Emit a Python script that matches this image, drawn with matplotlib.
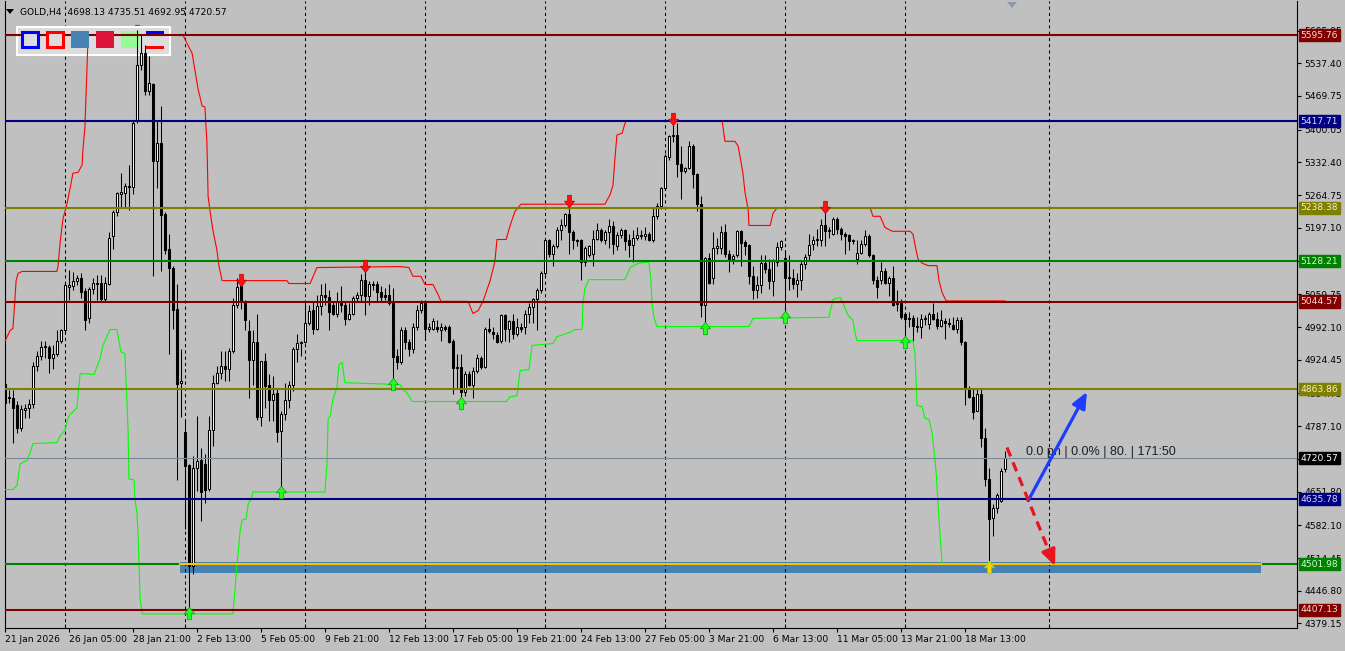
import matplotlib
matplotlib.use('Agg')
import matplotlib.pyplot as plt
from matplotlib import font_manager
from matplotlib.patches import Rectangle, Polygon
import matplotlib.transforms as mtransforms
import numpy as np

available = {f.name for f in font_manager.fontManager.ttflist}
if 'Liberation Sans Narrow' in available:
    UI_FONT, UI_SIZE = 'Liberation Sans Narrow', 8.3
else:
    UI_FONT, UI_SIZE = 'DejaVu Sans', 6.6
TXT_FONT = 'Liberation Sans' if 'Liberation Sans' in available else 'DejaVu Sans'
plt.rcParams['font.family'] = [UI_FONT, 'DejaVu Sans']

# ---------------- data (GOLD, H4) ----------------
opens = [
    4875, 4848, 4846, 4830, 4784, 4821, 4825, 4832, 4912, 4933,
    4950, 4950, 4927, 4937, 4964, 4985, 5074, 5076, 5088, 5093,
    5066, 5010, 5070, 5082, 5084, 5051, 5082, 5180, 5229, 5267,
    5269, 5283, 5281, 5418, 5534, 5558, 5480, 5494, 5335, 5372,
    5225, 5153, 5115, 5030, 4877, 4774, 4707, 4498, 4701, 4717,
    4709, 4658, 4780, 4877, 4898, 4912, 4906, 4943, 5037, 5076,
    5045, 4983, 4923, 4962, 4807, 4921, 4873, 4842, 4856, 4777,
    4813, 4842, 4873, 4946, 4958, 4962, 5001, 5028, 4987, 5035,
    5059, 5055, 5037, 5020, 5045, 5037, 5008, 5020, 5053, 5059,
    5090, 5057, 5082, 5082, 5064, 5059, 5059, 5041, 4933, 4919,
    4985, 4962, 4946, 4993, 5028, 5041, 4989, 4989, 4993, 4985,
    4993, 4993, 4964, 4908, 4910, 4857, 4895, 4873, 4902, 4927,
    4910, 4989, 4981, 4975, 4964, 5016, 4989, 5004, 4977, 4993,
    4993, 5018, 5033, 5051, 5068, 5103, 5171, 5142, 5159, 5192,
    5204, 5225, 5188, 5171, 5171, 5126, 5140, 5142, 5175, 5192,
    5173, 5188, 5200, 5159, 5182, 5192, 5171, 5161, 5177, 5182,
    5180, 5184, 5173, 5221, 5242, 5279, 5343, 5387, 5389, 5329,
    5314, 5320, 5366, 5308, 5246, 5037, 5134, 5093, 5155, 5155,
    5188, 5144, 5132, 5140, 5190, 5167, 5161, 5097, 5068, 5078,
    5124, 5113, 5088, 5126, 5157, 5134, 5093, 5093, 5082, 5090,
    5122, 5140, 5163, 5171, 5173, 5202, 5190, 5184, 5215, 5194,
    5184, 5182, 5169, 5132, 5146, 5163, 5180, 5140, 5090, 5090,
    5107, 5084, 5093, 5039, 5045, 5020, 5008, 5010, 4995, 4993,
    5008, 4999, 5018, 5008, 4995, 5004, 5001, 4997, 4987, 5006,
    4962, 4865, 4848, 4819, 4854, 4762, 4677, 4598, 4618, 4633,
    4698.13]
highs = [
    4885, 4861, 4861, 4840, 4830, 4832, 4844, 4919, 4943, 4964,
    4964, 4954, 4954, 4985, 4989, 5084, 5109, 5105, 5099, 5103,
    5072, 5074, 5093, 5099, 5099, 5095, 5188, 5233, 5271, 5310,
    5289, 5327, 5418, 5606, 5596, 5575, 5552, 5496, 5420, 5449,
    5229, 5184, 5119, 5080, 4946, 4799, 4709, 4726, 4808, 4742,
    4730, 4808, 4892, 4912, 4943, 4943, 4948, 5053, 5093, 5097,
    5047, 5006, 4985, 5020, 4921, 4939, 4894, 4890, 4863, 4819,
    4877, 4881, 4950, 4977, 4964, 5045, 5037, 5045, 5059, 5080,
    5084, 5068, 5045, 5064, 5076, 5045, 5041, 5057, 5064, 5101,
    5109, 5088, 5088, 5088, 5076, 5072, 5080, 5072, 4946, 4993,
    4993, 4968, 5001, 5037, 5047, 5045, 5001, 5010, 5006, 5001,
    4997, 4997, 4968, 4937, 4937, 4902, 4902, 4910, 4937, 4933,
    4993, 5010, 4993, 4981, 5020, 5020, 5006, 5020, 5010, 5001,
    5028, 5041, 5053, 5072, 5107, 5175, 5175, 5163, 5198, 5215,
    5227, 5246, 5192, 5175, 5175, 5159, 5161, 5192, 5208, 5196,
    5192, 5215, 5211, 5188, 5196, 5194, 5184, 5192, 5198, 5192,
    5198, 5188, 5240, 5248, 5281, 5349, 5389, 5422, 5413, 5366,
    5322, 5376, 5370, 5310, 5262, 5136, 5146, 5188, 5177, 5200,
    5206, 5151, 5142, 5192, 5192, 5171, 5163, 5119, 5097, 5140,
    5140, 5132, 5132, 5167, 5173, 5151, 5140, 5113, 5103, 5128,
    5144, 5184, 5180, 5194, 5215, 5231, 5198, 5219, 5219, 5198,
    5188, 5184, 5175, 5171, 5171, 5192, 5184, 5144, 5097, 5126,
    5115, 5097, 5119, 5068, 5049, 5024, 5024, 5016, 5012, 5018,
    5016, 5024, 5041, 5024, 5028, 5010, 5010, 5012, 5012, 5012,
    4964, 4871, 4863, 4863, 4863, 4783, 4700, 4626, 4648, 4700,
    4735.51]
lows = [
    4830, 4836, 4753, 4772, 4778, 4805, 4805, 4825, 4902, 4923,
    4929, 4896, 4906, 4933, 4960, 4981, 5047, 5068, 5078, 5053,
    4985, 5001, 5061, 5047, 5043, 5043, 5078, 5153, 5221, 5238,
    5238, 5233, 5267, 5413, 5523, 5471, 5471, 5097, 5279, 5107,
    5144, 4937, 4989, 4676, 4807, 4575, 4400, 4481, 4653, 4591,
    4628, 4653, 4746, 4875, 4885, 4881, 4881, 4939, 5032, 5030,
    4985, 4846, 4873, 4799, 4787, 4825, 4798, 4798, 4755, 4649,
    4799, 4825, 4859, 4919, 4933, 4958, 4997, 4977, 4985, 5016,
    5037, 4985, 5016, 5012, 5024, 4997, 5006, 5016, 5045, 5045,
    5016, 5037, 5068, 5045, 5045, 5047, 5037, 4865, 4906, 4915,
    4946, 4933, 4939, 4985, 5022, 4968, 4981, 4985, 4981, 4964,
    4983, 4958, 4854, 4866, 4842, 4849, 4870, 4846, 4898, 4906,
    4908, 4979, 4968, 4958, 4960, 4964, 4962, 4968, 4973, 4981,
    4977, 5001, 5001, 4985, 5063, 5099, 5136, 5119, 5155, 5171,
    5198, 5142, 5153, 5159, 5090, 5119, 5136, 5119, 5171, 5167,
    5163, 5155, 5142, 5151, 5177, 5151, 5136, 5126, 5171, 5175,
    5173, 5169, 5167, 5215, 5237, 5275, 5337, 5374, 5302, 5256,
    5310, 5318, 5279, 5231, 5012, 4993, 5080, 5080, 5144, 5144,
    5136, 5105, 5122, 5136, 5119, 5140, 5080, 5049, 5053, 5063,
    5103, 5071, 5057, 5119, 5151, 5012, 5068, 5071, 5055, 5068,
    5111, 5128, 5151, 5159, 5159, 5159, 5177, 5182, 5184, 5171,
    5144, 5151, 5163, 5122, 5144, 5159, 5136, 5080, 5053, 5080,
    5080, 5057, 5035, 5026, 5008, 4968, 4993, 4964, 4981, 4970,
    4997, 4989, 5006, 4989, 4993, 4968, 4993, 4985, 4979, 4954,
    4830, 4846, 4802, 4819, 4744, 4663, 4492, 4561, 4608, 4631,
    4692.95]
closes = [
    4836, 4846, 4825, 4784, 4823, 4825, 4832, 4912, 4933, 4950,
    4952, 4927, 4937, 4964, 4985, 5078, 5078, 5088, 5093, 5064,
    5006, 5070, 5084, 5084, 5051, 5084, 5177, 5229, 5269, 5271,
    5283, 5281, 5413, 5534, 5558, 5480, 5496, 5335, 5372, 5223,
    5151, 5115, 5028, 4875, 4881, 4705, 4498, 4701, 4715, 4651,
    4656, 4780, 4877, 4898, 4912, 4906, 4943, 5037, 5074, 5045,
    5006, 4923, 4962, 4807, 4921, 4871, 4842, 4854, 4775, 4813,
    4842, 4873, 4946, 4958, 4962, 5001, 5026, 4987, 5035, 5059,
    5055, 5024, 5020, 5043, 5037, 5008, 5020, 5053, 5059, 5090,
    5057, 5080, 5078, 5064, 5055, 5055, 5041, 4931, 4919, 4985,
    4962, 4946, 4993, 5028, 5041, 4989, 4993, 5004, 4989, 4993,
    4989, 4962, 4908, 4910, 4857, 4895, 4873, 4902, 4927, 4910,
    4989, 4983, 4977, 4962, 5016, 4989, 5004, 4977, 4993, 4989,
    5018, 5033, 5051, 5068, 5103, 5171, 5142, 5159, 5192, 5204,
    5225, 5188, 5171, 5169, 5126, 5155, 5159, 5175, 5192, 5173,
    5188, 5200, 5163, 5182, 5192, 5169, 5161, 5177, 5182, 5180,
    5184, 5173, 5221, 5242, 5279, 5345, 5387, 5389, 5329, 5314,
    5320, 5366, 5308, 5246, 5037, 5134, 5084, 5155, 5159, 5188,
    5144, 5132, 5138, 5190, 5165, 5159, 5097, 5068, 5078, 5124,
    5113, 5088, 5128, 5157, 5169, 5093, 5095, 5082, 5090, 5122,
    5136, 5161, 5173, 5175, 5202, 5190, 5192, 5215, 5194, 5184,
    5180, 5169, 5171, 5146, 5163, 5180, 5140, 5090, 5074, 5107,
    5084, 5093, 5037, 5041, 5012, 5008, 5010, 4995, 4993, 5008,
    5010, 5018, 5008, 4995, 5006, 5001, 4999, 4987, 5006, 4962,
    4865, 4848, 4816, 4854, 4762, 4677, 4596, 4618, 4645, 4695,
    4720.57]
assert len(opens) == len(highs) == len(lows) == len(closes) == 251

# channel indicator (bar index, price)
upper_channel = [
    (0, 4964), (1.2, 4985), (1.9, 4989), (2.2, 5024), (2.7, 5088), (3.2, 5103), (4.2, 5107),
    (12.9, 5107), (13.2, 5119), (13.7, 5167), (14.4, 5215), (15.4, 5246), (16.2, 5279),
    (16.9, 5310), (18.2, 5312), (19.2, 5327), (19.4, 5358), (19.9, 5405), (20.4, 5523),
    (20.7, 5596), (44.4, 5596), (45.4, 5579), (46.7, 5558), (47.4, 5523), (48.2, 5484),
    (49.2, 5449), (49.9, 5447), (50.4, 5374), (50.7, 5262), (51.2, 5231), (51.9, 5192),
    (52.9, 5151), (53.4, 5119), (54.2, 5088), (70.4, 5088), (70.9, 5082), (76.2, 5082),
    (77.9, 5115), (98.7, 5117), (100.9, 5115), (101.9, 5097), (103.9, 5097), (104.9, 5080),
    (106.9, 5080), (108.2, 5059), (108.9, 5045), (115.7, 5045), (116.9, 5020), (118.2, 5026),
    (119.4, 5045), (121.2, 5088), (122.4, 5128), (122.9, 5173), (125.2, 5173), (126.2, 5202),
    (127.4, 5231), (128.9, 5246), (149.9, 5246), (151.2, 5266), (151.9, 5285), (152.4, 5341),
    (152.9, 5389), (154.2, 5393), (154.9, 5413), (155.2, 5418), (179.2, 5418), (179.9, 5376),
    (182.4, 5376), (183.2, 5366), (184.4, 5310), (184.9, 5271), (185.7, 5235), (185.9, 5202),
    (191.2, 5202), (191.9, 5227), (192.9, 5238), (216.2, 5238), (216.9, 5221), (218.7, 5221),
    (219.9, 5198), (221.7, 5190), (226.2, 5190), (226.9, 5184), (227.7, 5150), (228.2, 5132),
    (229.2, 5124), (230.7, 5119), (232.9, 5119), (233.4, 5088), (234.2, 5063), (235.2, 5046),
    (249.9, 5046)]
lower_channel = [
    (0, 4656), (1.9, 4656), (2.9, 4664), (3.7, 4709), (5.4, 4716), (6.2, 4732), (6.9, 4751),
    (12.9, 4753), (13.7, 4767), (14.9, 4778), (15.7, 4805), (16.2, 4811), (17.9, 4825),
    (18.7, 4896), (22.2, 4894), (22.9, 4910), (23.7, 4927), (24.4, 4954), (25.4, 4972),
    (26.2, 4987), (27.9, 4987), (28.9, 4941), (29.9, 4937), (30.4, 4840), (30.7, 4776),
    (30.9, 4678), (32.2, 4676), (32.4, 4637), (32.9, 4608), (33.2, 4560), (33.7, 4432),
    (34.2, 4399), (56.9, 4399), (57.4, 4446), (57.9, 4502), (58.2, 4523), (58.7, 4571),
    (59.2, 4593), (60.2, 4595), (60.7, 4625), (61.7, 4643), (61.9, 4651), (79.9, 4651),
    (80.4, 4707), (80.7, 4803), (81.2, 4807), (81.9, 4842), (82.9, 4867), (83.4, 4914),
    (84.2, 4919), (84.9, 4877), (98.7, 4873), (99.4, 4863), (100.4, 4856), (101.7, 4838),
    (125.2, 4838), (126.2, 4848), (127.9, 4850), (128.7, 4902), (130.9, 4904), (131.7, 4954),
    (136.9, 4958), (137.9, 4972), (141.2, 4981), (142.4, 4987), (144.2, 4987), (144.4, 5041),
    (144.9, 5072), (145.9, 5090), (154.9, 5090), (156.2, 5115), (158.2, 5124), (160.9, 5126),
    (161.4, 5088), (161.7, 5037), (162.2, 5010), (162.9, 4993), (185.9, 4993), (186.9, 5010),
    (205.9, 5012), (206.9, 5049), (208.7, 5053), (209.4, 5041), (210.7, 5016), (211.9, 5006),
    (212.4, 4981), (212.9, 4964), (226.9, 4964), (227.4, 4937), (227.7, 4881), (227.9, 4830),
    (229.2, 4827), (229.9, 4803), (230.9, 4801), (231.7, 4772), (232.2, 4734), (232.7, 4691),
    (233.2, 4620), (233.7, 4560), (234.2, 4502)]

sell_signal_bars = [33, 59, 90, 141, 167, 205]
sell_signal_prices = [5605, 5090, 5119, 5252, 5422, 5240]
buy_signal_bars = [46, 69, 97, 114, 175, 195, 225]
buy_signal_prices = [4401, 4651, 4875, 4836, 4991, 5012, 4962]
alert_bar, alert_price = 246, 4496

level_prices = [5595.76, 5417.71, 5238.38, 5128.21, 5044.57, 4863.86, 4635.78, 4501.98, 4407.13]
level_colors = ['#800000', '#000080', '#808000', '#008000', '#800000',
                '#808000', '#000080', '#008000', '#800000']
level_text_colors = ['#FFD8D8', '#D8D8FF', '#F0F0C8', '#D0FFD0', '#FFD8D8',
                     '#F0F0C8', '#D8D8FF', '#D0FFD0', '#FFD8D8']
last_price = 4720.57

zone_bars = (43.7, 313.9)
zone_prices = (4483.7, 4506.5)
zone_line_price = 4501.98

up_arrow_start, up_arrow_end = (255.7, 4633), (270.4, 4858)
down_arrow_start, down_arrow_end = (250.4, 4743), (262.4, 4498)
info_text = '0.0 pn | 0.0% | 80. | 171:50'
info_pos = (255.2, 4734)

ytick_values = [5605.05, 5537.40, 5469.75, 5400.05, 5332.40, 5264.75, 5197.10, 5129.45,
                5059.75, 4992.10, 4924.45, 4854.75, 4787.10, 4719.45, 4651.80, 4582.10,
                4514.45, 4446.80, 4379.15]
date_labels = ['21 Jan 2026', '26 Jan 05:00', '28 Jan 21:00', '2 Feb 13:00', '5 Feb 05:00',
               '9 Feb 21:00', '12 Feb 13:00', '17 Feb 05:00', '19 Feb 21:00', '24 Feb 13:00',
               '27 Feb 05:00', '3 Mar 21:00', '6 Mar 13:00', '11 Mar 05:00', '13 Mar 21:00',
               '18 Mar 13:00']
date_label_bars = [16 * k for k in range(len(date_labels))]
week_grid_bars = [15, 45, 75, 105, 135, 165, 195, 225, 261]
header = 'GOLD,H4  4698.13 4735.51 4692.95 4720.57'

# ---------------- figure ----------------
W, H = 1345, 651
BG = '#C0C0C0'
fig = plt.figure(figsize=(W / 100, H / 100), dpi=100, facecolor=BG)
ax_left, ax_right, ax_top, ax_bottom = 4.5, 1297, 1, 628
ax = fig.add_axes([ax_left / W, 1 - ax_bottom / H, (ax_right - ax_left) / W, (ax_bottom - ax_top) / H])
ax.set_facecolor(BG)
ax.set_xlim(-0.2, 322.9)
ax.set_ylim(4369.8, 5666.1)

o = np.array(opens, float); h = np.array(highs, float)
l = np.array(lows, float); c = np.array(closes, float)
bars = np.arange(len(c))
hi = np.maximum(h, np.maximum(o, c)); lo = np.minimum(l, np.minimum(o, c))

# grid
for gb in week_grid_bars:
    ax.axvline(gb, color='black', lw=0.75, ls=(0, (3, 3)), zorder=2)

# zone rectangle
ax.add_patch(Rectangle((zone_bars[0], zone_prices[0]), zone_bars[1] - zone_bars[0],
                       zone_prices[1] - zone_prices[0], fc='#4682B4', ec='none', zorder=1.5))

# candles
ax.vlines(bars, lo, hi, color='black', lw=0.75, zorder=3)
up = c >= o
bottom = np.minimum(o, c); height = np.abs(c - o)
ax.bar(bars[up], height[up], bottom=bottom[up], width=0.5, color='white',
       edgecolor='black', linewidth=0.75, zorder=3.1)
ax.bar(bars[~up], height[~up], bottom=bottom[~up], width=0.5, color='black',
       edgecolor='black', linewidth=0.75, zorder=3.1)

# channel
ub, up_ = zip(*upper_channel)
lb, lp = zip(*lower_channel)
ax.plot(ub, up_, color='#FF0000', lw=0.8, zorder=3.5)
ax.plot(lb, lp, color='#00FF00', lw=0.8, zorder=3.5)

# horizontal levels
for p, col in zip(level_prices, level_colors):
    ax.axhline(p, color=col, lw=1.5, zorder=4)
ax.axhline(last_price, color='#7A8896', lw=0.8, zorder=3.8)
ax.plot(zone_bars, [zone_line_price] * 2, color='#FFC000', lw=1.5, zorder=4.1)

# signal arrows
down_marker = [(-0.3, 1), (0.3, 1), (0.3, 0.05), (0.8, 0.05), (0, -1), (-0.8, 0.05), (-0.3, 0.05), (-0.3, 1)]
up_marker = [(x, -y) for x, y in down_marker]
for b, p in zip(sell_signal_bars, sell_signal_prices):
    ax.plot([b], [p], marker=down_marker, ms=9, mfc='#FF1010', mec='#C00000', mew=0.5,
            ls='none', zorder=2.0 if p > 5590 else 6)
ax.plot(buy_signal_bars, buy_signal_prices, marker=up_marker, ms=9, mfc='#22FF22',
        mec='#00A000', mew=0.5, ls='none', zorder=6)
ax.plot([alert_bar], [alert_price], marker=up_marker, ms=9, mfc='#FFD000',
        mec='#80E000', mew=0.6, ls='none', zorder=6)

# drawn arrows
ax.annotate('', xy=up_arrow_end, xytext=up_arrow_start,
            arrowprops=dict(arrowstyle='-|>,head_length=0.8,head_width=0.35', color='#1E3CFF',
                            lw=2.3, mutation_scale=12, shrinkA=0, shrinkB=0), zorder=7)
sx, sy = down_arrow_start; ex, ey = down_arrow_end
fx, fy = sx + (ex - sx) * 0.9, sy + (ey - sy) * 0.9
ax.plot([sx, fx], [sy, fy], color='#E8141E', lw=2.3, ls=(0, (3, 2)), zorder=7)
ax.annotate('', xy=down_arrow_end, xytext=(fx, fy),
            arrowprops=dict(arrowstyle='-|>,head_length=0.8,head_width=0.35', color='#E8141E',
                            lw=2.3, mutation_scale=12, shrinkA=0, shrinkB=0), zorder=7)
ax.text(info_pos[0], info_pos[1], info_text, ha='left', va='center', fontsize=9,
        family=[TXT_FONT, 'DejaVu Sans'], color='#1E1E1E', zorder=6.5)

# axes styling
for side in ['left', 'bottom', 'right']:
    ax.spines[side].set_color('black'); ax.spines[side].set_linewidth(0.8)
ax.spines['top'].set_visible(False)
ax.yaxis.tick_right()
ax.set_yticks(ytick_values)
ax.set_yticklabels(['%.2f' % v for v in ytick_values])
ax.tick_params(axis='y', direction='out', length=3, width=0.8, pad=2.5,
               labelsize=UI_SIZE, colors='black')
ax.set_xticks([b - 0.15 for b in date_label_bars])
ax.set_xticklabels(date_labels)
for lbl in ax.get_xticklabels():
    lbl.set_ha('left')
ax.set_xticks(week_grid_bars, minor=True)
ax.tick_params(axis='x', which='major', direction='out', length=3, width=0.8, pad=2,
               labelsize=UI_SIZE, colors='black')
ax.tick_params(axis='x', which='minor', direction='in', length=3, width=0.8)

# price labels on right axis
btrans = mtransforms.blended_transform_factory(ax.transAxes, ax.transData)
xlab = 1 + 3.5 / (ax_right - ax_left)
for p, col, tc in zip(level_prices, level_colors, level_text_colors):
    ax.text(xlab, p, '%.2f' % p, transform=btrans, ha='left', va='center', fontsize=UI_SIZE,
            color=tc, clip_on=False, zorder=10,
            bbox=dict(boxstyle='square,pad=0.18', fc=col, ec=col))
ax.text(xlab, last_price, '%.2f' % last_price, transform=btrans, ha='left', va='center',
        fontsize=UI_SIZE, color='white', clip_on=False, zorder=10,
        bbox=dict(boxstyle='square,pad=0.18', fc='black', ec='black'))

# legend box (top-left)
def fig_rect(x0, y0, x1, y1, **kw):
    r = Rectangle((x0 / W, 1 - y1 / H), (x1 - x0) / W, (y1 - y0) / H,
                  transform=fig.transFigure, clip_on=False, **kw)
    ax.add_patch(r)

fig_rect(17, 27, 170, 55, fc='#DCDCDC', ec='white', lw=1.5, zorder=2.2)
fig_rect(22, 32, 38, 47, fc='#DCDCDC', ec='#0000FF', lw=2.2, zorder=4.5)
fig_rect(47, 32, 63, 47, fc='#DCDCDC', ec='#FF0000', lw=2.2, zorder=4.5)
fig_rect(71, 31, 89, 48, fc='#4682B4', ec='none', zorder=4.5)
fig_rect(96, 31, 114, 48, fc='#DC143C', ec='none', zorder=4.5)
fig_rect(121, 31, 139, 48, fc='#98FB98', ec='none', zorder=2.3)
fig_rect(146, 31, 164, 34, fc='#0000FF', ec='none', zorder=4.5)
fig_rect(146, 46, 164, 49, fc='#FF0000', ec='none', zorder=4.5)

# header
fig.add_artist(Polygon([(6 / W, 1 - 9 / H), (14 / W, 1 - 9 / H), (10 / W, 1 - 14 / H)],
                       closed=True, transform=fig.transFigure, fc='black', ec='none'))
fig.text(20 / W, 1 - 12 / H, header, ha='left', va='center', fontsize=UI_SIZE, color='black')
fig.add_artist(Polygon([(1007 / W, 1 - 2 / H), (1017 / W, 1 - 2 / H), (1012 / W, 1 - 8 / H)],
                       closed=True, transform=fig.transFigure, fc='#8C98A6', ec='none'))

fig.savefig('out.png', dpi=100, facecolor=BG)
